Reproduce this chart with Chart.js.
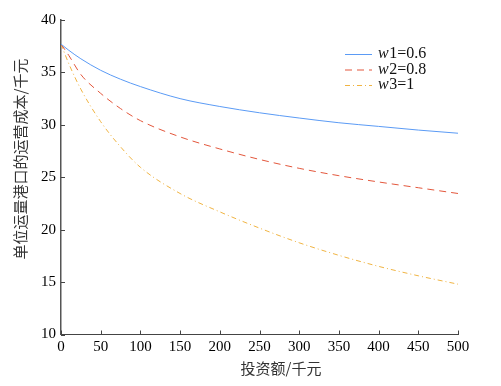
<!DOCTYPE html>
<html><head><meta charset="utf-8">
<script src="https://cdn.jsdelivr.net/npm/chart.js@4"></script>
<style>html,body{margin:0;padding:0;background:#fff}#wrap{width:501px;height:386px;position:relative}</style>
</head><body><div id="wrap"><canvas id="c" width="501" height="386"></canvas></div>
<script>
const xValues = [0,10,25,50,75,100,150,200,250,300,350,400,450,500];
const w1 = [37.7,37.1,36.3,35.2,34.35,33.65,32.5,31.75,31.15,30.65,30.2,29.85,29.5,29.2];
const w2 = [37.7,36.6,34.8,33.0,31.55,30.4,28.85,27.7,26.7,25.85,25.15,24.55,24.0,23.45];
const w3 = [37.7,35.8,33.4,30.3,27.9,25.95,23.45,21.7,20.15,18.75,17.55,16.5,15.6,14.8];
const xTicks = [0,50,100,150,200,250,300,350,400,450,500];
const yTicks = [10,15,20,25,30,35,40];
const seriesNames = ['w1=0.6','w2=0.8','w3=1'];
const xTitle = '投资额/千元';
const yTitle = '单位运量港口的运营成本/千元';

const colors = ['#5b9bf5','#e3573c','#f0b443'];
const dashes = [[],[7,5],[5,3,1,3]];
const series = [w1,w2,w3];

const datasets = series.map((s,i)=>({
  label: seriesNames[i],
  data: xValues.map((x,j)=>({x:x,y:s[j]})),
  borderColor: colors[i],
  borderDash: dashes[i],
  borderWidth: 1,
  pointRadius: 0,
  fill: false,
  cubicInterpolationMode: 'monotone'
}));

const serif = "'Liberation Serif','Times New Roman',serif";

const decor = {
  id: 'decor',
  afterDraw(chart) {
    const ctx = chart.ctx;
    const xs = chart.scales.x, ys = chart.scales.y;
    const ca = chart.chartArea;
    ctx.save();
    ctx.strokeStyle = '#444';
    ctx.lineWidth = 1;
    xTicks.forEach(v => {
      const px = Math.round(xs.getPixelForValue(v)) + 0.5;
      ctx.beginPath(); ctx.moveTo(px, ca.bottom); ctx.lineTo(px, ca.bottom - 4); ctx.stroke();
    });
    yTicks.forEach(v => {
      const py = Math.round(ys.getPixelForValue(v)) + 0.5;
      ctx.beginPath(); ctx.moveTo(ca.left, py); ctx.lineTo(ca.left + 4, py); ctx.stroke();
    });
    ctx.fillStyle = '#333';
    ctx.font = "15px 'Noto Sans CJK SC'";
    ctx.textAlign = 'center';
    ctx.textBaseline = 'middle';
    ctx.fillText(xTitle, 281, 368);
    ctx.save();
    ctx.translate(20, 159);
    ctx.rotate(-Math.PI/2);
    ctx.fillText(yTitle, 0, 0);
    ctx.restore();
    const lx1 = 345, lx2 = 372, tx = 378;
    const rows = [54, 69.5, 85];
    chart.data.datasets.forEach((ds, i) => {
      const y = rows[i];
      ctx.strokeStyle = ds.borderColor;
      ctx.setLineDash(ds.borderDash);
      ctx.beginPath(); ctx.moveTo(lx1, y + 0.5); ctx.lineTo(lx2, y + 0.5); ctx.stroke();
      ctx.setLineDash([]);
      const name = ds.label;
      ctx.fillStyle = '#111';
      ctx.textAlign = 'left';
      ctx.textBaseline = 'middle';
      ctx.font = "italic 16px " + serif;
      ctx.fillText(name[0], tx, y);
      const w = ctx.measureText(name[0]).width;
      ctx.font = "16px " + serif;
      ctx.fillText(name.slice(1), tx + w + 0.5, y);
    });
    ctx.restore();
  }
};

new Chart(document.getElementById('c'), {
  type: 'line',
  data: { datasets },
  options: {
    responsive: false,
    devicePixelRatio: 1,
    animation: false,
    layout: { padding: { left: 0, top: 20, right: 43, bottom: 0 } },
    plugins: { legend: { display: false }, tooltip: { enabled: false } },
    scales: {
      x: {
        type: 'linear', min: 0, max: 500,
        afterBuildTicks: s => { s.ticks = xTicks.map(v => ({ value: v })); },
        afterFit: s => { s.height = 51.5; },
        grid: { display: false, drawTicks: false },
        border: { display: true, color: '#444', width: 1 },
        ticks: { font: { family: serif, size: 15 }, color: '#000', padding: 4, maxRotation: 0, autoSkip: false }
      },
      y: {
        type: 'linear', min: 10, max: 40,
        afterBuildTicks: s => { s.ticks = yTicks.map(v => ({ value: v })); },
        afterFit: s => { s.width = 61; },
        grid: { display: false, drawTicks: false },
        border: { display: true, color: '#555', width: 1.5 },
        ticks: { font: { family: serif, size: 15 }, color: '#000', padding: 5, autoSkip: false }
      }
    }
  },
  plugins: [decor]
});
</script></body></html>
